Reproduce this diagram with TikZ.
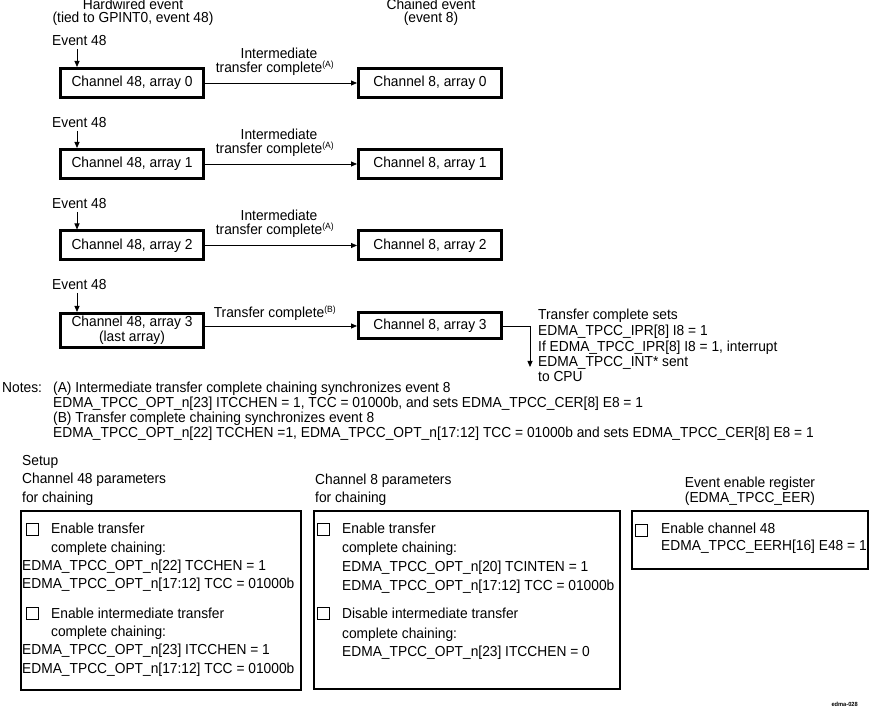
\documentclass[tikz,border=0pt]{standalone}
\usepackage{fontspec}
\setmainfont{Liberation Sans}[FakeStretch=0.95]
\usetikzlibrary{arrows.meta}
\begin{document}
\begin{tikzpicture}[x=1pt,y=-1pt,
  every node/.style={font=\fontsize{14.5}{15.5}\selectfont, inner sep=0pt},
  chbox/.style={draw, line width=3pt, minimum width=143pt, minimum height=29pt, align=center},
  txt/.style={anchor=base west},
  ctxt/.style={anchor=base},
  arr/.style={-{Triangle[length=6pt,width=5pt]}, line width=0.8pt},
  panel/.style={draw, line width=1.6pt},
  cb/.style={draw, line width=0.9pt, minimum width=12pt, minimum height=11.5pt}
]
\useasboundingbox (0,0) rectangle (871,711);
\newcommand{\supA}[1]{\textsuperscript{\fontsize{9}{9}\selectfont(#1)}}

% headings
\node[ctxt] (h1) at (133,10) {Hardwired event};
\node[ctxt] (h2) at (133,23) {(tied to GPINT0, event 48)};
\node[ctxt] (h3) at (431,10) {Chained event};
\node[ctxt] (h4) at (431,23) {(event 8)};

% row 0
\node[txt] (e0) at (52,46) {Event 48};
\coordinate (e0a) at (77,49);
\node[chbox] (a0) at (132,83) {Channel 48, array 0};
\node[chbox] (b0) at (430,83) {Channel 8, array 0};
\draw[arr] (e0a) -- (a0.north -| e0a);
\draw[arr] (a0.east) -- (b0.west);
\node[ctxt] (l0a) at (279,59) {Intermediate};
\node[ctxt] (l0b) at (275,73) {transfer complete\supA{A}};

% row 1
\node[txt] (e1) at (52,128) {Event 48};
\coordinate (e1a) at (77,131);
\node[chbox] (a1) at (132,164) {Channel 48, array 1};
\node[chbox] (b1) at (430,164) {Channel 8, array 1};
\draw[arr] (e1a) -- (a1.north -| e1a);
\draw[arr] (a1.east) -- (b1.west);
\node[ctxt] (l1a) at (279,140) {Intermediate};
\node[ctxt] (l1b) at (275,154) {transfer complete\supA{A}};

% row 2
\node[txt] (e2) at (52,209) {Event 48};
\coordinate (e2a) at (77,212);
\node[chbox] (a2) at (132,245.5) {Channel 48, array 2};
\node[chbox] (b2) at (430,245.5) {Channel 8, array 2};
\draw[arr] (e2a) -- (a2.north -| e2a);
\draw[arr] (a2.east) -- (b2.west);
\node[ctxt] (l2a) at (279,221) {Intermediate};
\node[ctxt] (l2b) at (275,235) {transfer complete\supA{A}};

% row 3
\node[txt] (e3) at (52,290) {Event 48};
\coordinate (e3a) at (77,293);
\node[chbox, minimum height=34pt, font=\fontsize{14.5}{12.5}\selectfont] (a3) at (132,330.5) {Channel 48, array 3\\(last array)};
\node[chbox, minimum height=26pt] (b3) at (430,326) {Channel 8, array 3};
\draw[arr] (e3a) -- (a3.north -| e3a);
\draw[arr] (b3.west -| a3.east) -- (b3.west);
\node[ctxt] (l3) at (275,318) {Transfer complete\supA{B}};
\coordinate (bend) at (530,326);
\coordinate (cpu) at (530,367);
\draw[arr] (b3.east) -- (bend) -- (cpu);
\node[txt] (t1) at (538,320) {Transfer complete sets};
\node[txt] (t2) at (538,336) {EDMA\_TPCC\_IPR[8] I8 = 1};
\node[txt] (t3) at (538,352) {If EDMA\_TPCC\_IPR[8] I8 = 1, interrupt};
\node[txt] (t4) at (538,367) {EDMA\_TPCC\_INT* sent};
\node[txt] (t5) at (538,382) {to CPU};

% notes
\node[txt] (n0) at (2,393) {Notes:};
\node[txt] (n1) at (53,393) {(A) Intermediate transfer complete chaining synchronizes event 8};
\node[txt] (n2) at (53,408) {EDMA\_TPCC\_OPT\_n[23] ITCCHEN = 1, TCC = 01000b, and sets EDMA\_TPCC\_CER[8] E8 = 1};
\node[txt] (n3) at (53,423) {(B) Transfer complete chaining synchronizes event 8};
\node[txt] (n4) at (53,438) {EDMA\_TPCC\_OPT\_n[22] TCCHEN =1, EDMA\_TPCC\_OPT\_n[17:12] TCC = 01000b and sets EDMA\_TPCC\_CER[8] E8 = 1};

% setup headings
\node[txt] (s0) at (22,465) {Setup};
\node[txt] (s1) at (22,484) {Channel 48 parameters};
\node[txt] (s2) at (22,503) {for chaining};
\node[txt] (s3) at (315,485) {Channel 8 parameters};
\node[txt] (s4) at (315,503) {for chaining};
\node[ctxt] (s5) at (750,488) {Event enable register};
\node[ctxt] (s6) at (750,502) {(EDMA\_TPCC\_EER)};

% panel 1
\draw[panel] (20.8,510.8) rectangle (301.2,690.2);
\node[cb] (c1) at (32.5,529.5) {};
\node[txt] (p1a) at (51,533) {Enable transfer};
\node[txt] (p1b) at (51,552) {complete chaining:};
\node[txt] (p1c) at (22,570) {EDMA\_TPCC\_OPT\_n[22] TCCHEN = 1};
\node[txt] (p1d) at (22,588) {EDMA\_TPCC\_OPT\_n[17:12] TCC = 01000b};
\node[cb] (c2) at (32.5,613.5) {};
\node[txt] (p1e) at (51,618) {Enable intermediate transfer};
\node[txt] (p1f) at (51,636) {complete chaining:};
\node[txt] (p1g) at (22,654) {EDMA\_TPCC\_OPT\_n[23] ITCCHEN = 1};
\node[txt] (p1h) at (22,673) {EDMA\_TPCC\_OPT\_n[17:12] TCC = 01000b};

% panel 2
\draw[panel] (313.8,510.8) rectangle (620.2,689.2);
\node[cb] (c3) at (323,529.5) {};
\node[txt] (p2a) at (342,533) {Enable transfer};
\node[txt] (p2b) at (342,552) {complete chaining:};
\node[txt] (p2c) at (342,571) {EDMA\_TPCC\_OPT\_n[20] TCINTEN = 1};
\node[txt] (p2d) at (342,590) {EDMA\_TPCC\_OPT\_n[17:12] TCC = 01000b};
\node[cb] (c4) at (323,613.5) {};
\node[txt] (p2e) at (342,618) {Disable intermediate transfer};
\node[txt] (p2f) at (342,638) {complete chaining:};
\node[txt] (p2g) at (342,656) {EDMA\_TPCC\_OPT\_n[23] ITCCHEN = 0};

% panel 3
\draw[panel] (631.8,510.8) rectangle (868.2,569.2);
\node[cb] (c5) at (641.5,530.5) {};
\node[txt] (p3a) at (661,533) {Enable channel 48};
\node[txt] (p3b) at (661,550) {EDMA\_TPCC\_EERH[16] E48 = 1};

\node[anchor=base east, font=\fontsize{6}{6}\selectfont\bfseries] (tag) at (858,706) {edma-028};
\end{tikzpicture}
\end{document}
